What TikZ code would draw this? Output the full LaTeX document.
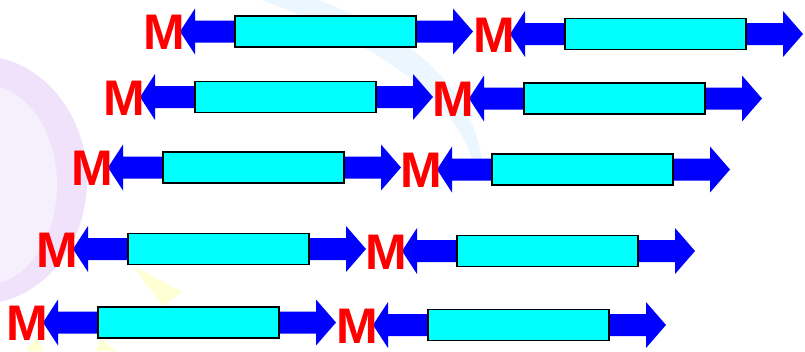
\documentclass[tikz,border=0pt]{standalone}
\usepackage{fontspec}
\setmainfont{Liberation Sans}
\definecolor{lav}{RGB}{240,226,250}
\definecolor{lavin}{RGB}{246,240,252}
\definecolor{swoosh}{RGB}{236,246,255}
\definecolor{paleyel}{RGB}{255,255,212}
\definecolor{barcyan}{RGB}{0,255,255}
\definecolor{arrblue}{RGB}{0,0,255}
\definecolor{mred}{RGB}{255,0,0}
\begin{document}
\begin{tikzpicture}[x=1pt,y=-1pt,
  bar/.style={fill=barcyan,draw=black,line width=1.4pt,inner sep=0pt,minimum width=181pt,minimum height=31pt},
  mlabel/.style={text=mred,font=\fontsize{50}{50}\selectfont\bfseries,inner sep=0pt,anchor=east}]
\useasboundingbox (0,0) rectangle (805,351);
\fill[white] (0,0) rectangle (805,351);
% faint background decorations
\fill[lav] (-20,180) ellipse [x radius=107pt, y radius=124pt];
\fill[lavin] (-15,185) ellipse [x radius=72pt, y radius=100pt];
\fill[swoosh] (262,0) -- (318,0) .. controls (400,30) and (470,80) .. (482,160) -- (472,160) .. controls (455,100) and (380,45) .. (262,0) -- cycle;
\fill[paleyel] (133,266) -- (182,292) -- (163,306) -- cycle;
\fill[paleyel] (100,338) -- (116,351) -- (96,351) -- cycle;
\fill[paleyel] (36,338) -- (44,351) -- (26,351) -- cycle;
% units
\foreach \x/\y/\n in {180/31.5/a, 510/34/b, 140/97/c, 469/98.5/d, 108/167.5/e, 437/169.5/f, 73/249/g, 402/251/h, 43/322.5/i, 373/325/j}{
  \fill[arrblue] (\x,\y) -- (\x+15,\y-23) -- (\x+15,\y-11) -- (\x+273,\y-11) -- (\x+273,\y-23) -- (\x+293,\y) -- (\x+273,\y+23) -- (\x+273,\y+11) -- (\x+15,\y+11) -- (\x+15,\y+23) -- cycle;
  \node[bar] (r\n) at (\x+145.5,\y) {};
  \node[mlabel] (m\n) at (\x+5,\y+1) {M};
}
\end{tikzpicture}
\end{document}
